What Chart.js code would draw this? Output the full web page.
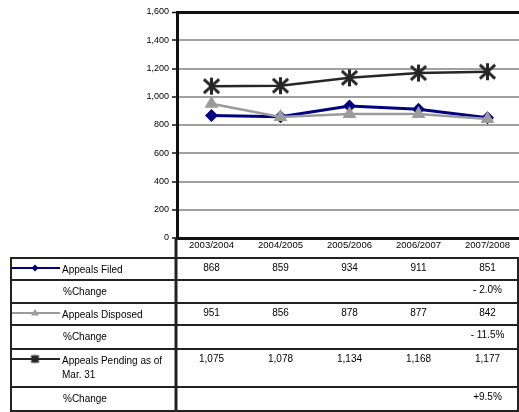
<!DOCTYPE html>
<html>
<head>
<meta charset="utf-8">
<script src="https://cdn.jsdelivr.net/npm/chart.js@4.4.0/dist/chart.umd.min.js"></script>
<style>
html, body { margin:0; padding:0; background:#fff; overflow:hidden; }
#wrap { width:530px; height:412px; }
</style>
</head>
<body>
<div id="wrap"><canvas id="chAppeals" width="530" height="412"></canvas></div>
<script>
/* appeals line chart + data table */

// data
var years = ['2003/2004', '2004/2005', '2005/2006', '2006/2007', '2007/2008'];
var filed = [868, 859, 934, 911, 851];
var disposed = [951, 856, 878, 877, 842];
var pending = [1075, 1078, 1134, 1168, 1177];
var filedChange = [null, null, null, null, -2.0];
var disposedChange = [null, null, null, null, -11.5];
var pendingChange = [null, null, null, null, 9.5];

// colors
var navy = '#000080', grey = '#9b9b9b', dark = '#262626';
var font = '"Liberation Sans", Arial, sans-serif';

// asterisk marker: an X with a vertical bar
function starMark(r, lw) {
  var s = Math.ceil(r * 2 + lw * 2);
  var c = document.createElement('canvas');
  c.width = s; c.height = s;
  var g = c.getContext('2d');
  var m = s / 2;
  g.strokeStyle = dark;
  g.lineWidth = lw;
  g.beginPath();
  g.moveTo(m - r * 0.9, m - r * 0.8); g.lineTo(m + r * 0.9, m + r * 0.8);
  g.moveTo(m + r * 0.9, m - r * 0.8); g.lineTo(m - r * 0.9, m + r * 0.8);
  g.moveTo(m, m - r); g.lineTo(m, m + r);
  g.stroke();
  return c;
}

function fmtNum(v) { return v.toLocaleString('en-US'); }
function fmtPct(v) {
  if (v === null) return '';
  return (v > 0 ? '+' : '- ') + Math.abs(v).toFixed(1) + '%';
}

// table rows below the plot
var rows = [
  {label: ['Appeals Filed'], values: filed.map(fmtNum), color: navy, mark: 'diamond', h: 22},
  {label: ['%Change'], values: filedChange.map(fmtPct), h: 23},
  {label: ['Appeals Disposed'], values: disposed.map(fmtNum), color: grey, mark: 'triangle', h: 22},
  {label: ['%Change'], values: disposedChange.map(fmtPct), h: 24},
  {label: ['Appeals Pending as of', 'Mar. 31'], values: pending.map(fmtNum), color: dark, mark: 'star', h: 38},
  {label: ['%Change'], values: pendingChange.map(fmtPct), h: 24}
];

var tablePlugin = {
  id: 'dataTable',
  afterDraw: function (chart) {
    var ctx = chart.ctx;
    var xs = chart.scales.x;
    var area = chart.chartArea;
    var top = area.bottom + 20;
    var left = 11, right = 518, divX = area.left;
    ctx.save();
    ctx.strokeStyle = '#222';
    ctx.lineWidth = 2;
    // horizontal rules
    var y = top;
    ctx.beginPath();
    ctx.moveTo(left - 1, y); ctx.lineTo(right + 1, y);
    rows.forEach(function (r) {
      y += r.h;
      ctx.moveTo(left - 1, y); ctx.lineTo(right + 1, y);
    });
    ctx.moveTo(left, top); ctx.lineTo(left, y);
    ctx.moveTo(right, top); ctx.lineTo(right, y);
    ctx.stroke();
    ctx.beginPath();
    ctx.lineWidth = 3;
    ctx.moveTo(divX - 1, area.bottom); ctx.lineTo(divX - 1, y);
    ctx.stroke();

    y = top;
    ctx.fillStyle = '#000';
    ctx.textBaseline = 'middle';
    rows.forEach(function (r) {
      // legend key
      if (r.mark) {
        var ky = y + 10;
        ctx.strokeStyle = r.color;
        ctx.lineWidth = 2;
        ctx.beginPath();
        ctx.moveTo(12, ky); ctx.lineTo(60, ky);
        ctx.stroke();
        ctx.fillStyle = r.color;
        ctx.beginPath();
        if (r.mark === 'diamond') {
          ctx.moveTo(35, ky - 3.5); ctx.lineTo(38.5, ky); ctx.lineTo(35, ky + 3.5); ctx.lineTo(31.5, ky);
          ctx.fill();
        } else if (r.mark === 'triangle') {
          ctx.moveTo(35, ky - 4); ctx.lineTo(39, ky + 2.5); ctx.lineTo(31, ky + 2.5);
          ctx.fill();
        } else {
          ctx.fillRect(32, ky - 2, 6, 4);
          ctx.drawImage(starMark(4, 2.5), 35 - 6.5, ky - 6.5);
        }
        ctx.fillStyle = '#000';
      }
      ctx.font = '10px ' + font;
      ctx.textAlign = 'left';
      r.label.forEach(function (t, i) {
        ctx.fillText(t, r.mark ? 62 : 63, y + 12.5 + i * 14);
      });
      ctx.textAlign = 'center';
      r.values.forEach(function (t, i) {
        ctx.fillText(t, xs.getPixelForValue(i), y + 10.5);
      });
      y += r.h;
    });
    ctx.restore();
  }
};

var chAppeals = document.getElementById('chAppeals');

new Chart(chAppeals, {
  type: 'line',
  data: {
    labels: years,
    datasets: [
      {
        label: 'Appeals Filed',
        data: filed,
        borderColor: navy, backgroundColor: navy,
        borderWidth: 3,
        pointStyle: 'rectRot', pointRadius: 6.5,
        pointBorderWidth: 0,
        order: 3
      },
      {
        label: 'Appeals Disposed',
        data: disposed,
        borderColor: grey, backgroundColor: grey,
        borderWidth: 2.5,
        pointStyle: 'triangle', pointRadius: 8,
        pointBorderWidth: 0,
        order: 2
      },
      {
        label: 'Appeals Pending as of Mar. 31',
        data: pending,
        borderColor: dark, backgroundColor: dark,
        borderWidth: 2.5,
        pointStyle: starMark(8.5, 3),
        order: 1
      }
    ]
  },
  options: {
    responsive: false,
    animation: false,
    devicePixelRatio: 1,
    layout: {padding: {top: 12, right: 3, bottom: 154, left: 0}},
    plugins: {
      legend: {display: false},
      tooltip: {enabled: false}
    },
    scales: {
      x: {
        offset: true,
        grid: {display: false, drawTicks: false},
        border: {display: true, color: '#111', width: 3},
        ticks: {color: '#000', padding: 2, font: {family: font, size: 9.5}, maxRotation: 0, autoSkip: false},
        afterFit: function (scale) { scale.height = 20; }
      },
      y: {
        min: 0, max: 1600,
        ticks: {
          stepSize: 200, color: '#000', padding: 3,
          font: {family: font, size: 9},
          callback: function (v) { return fmtNum(v); }
        },
        grid: {
          color: function (c) { return c.tick && c.tick.value === 1600 ? '#111' : '#a0a0a0'; },
          lineWidth: function (c) { return c.tick && c.tick.value === 1600 ? 3 : 2; },
          tickColor: '#111', tickLength: 5, tickWidth: 1.5
        },
        border: {display: true, color: '#111', width: 3},
        afterFit: function (scale) { scale.width = 177; }
      }
    }
  },
  plugins: [tablePlugin]
});
</script>
</body>
</html>
